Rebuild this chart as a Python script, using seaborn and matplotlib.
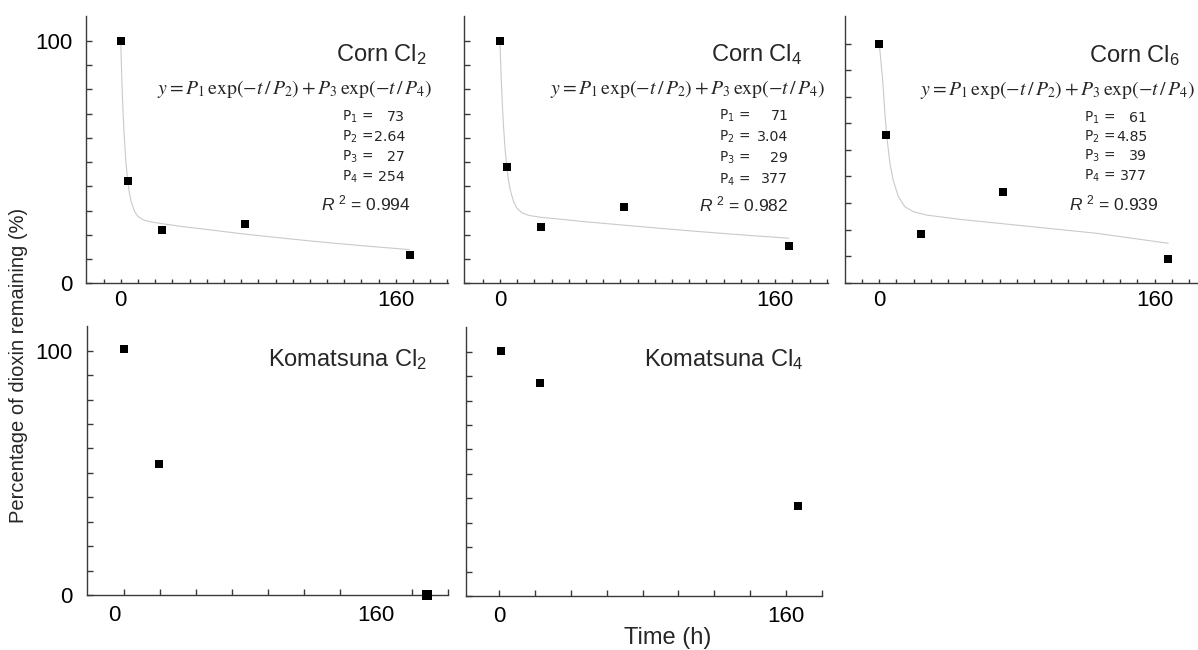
import matplotlib
matplotlib.use("Agg")
import matplotlib.pyplot as plt
import seaborn as sns
import pandas as pd

# ---------------- data ----------------
corn_time = [0, 4, 24, 72, 168]
corn_cl2 = [100, 42.3, 21.8, 24.3, 11.6]
corn_cl4 = [100, 48.0, 23.1, 31.6, 15.5]
corn_cl6 = [100, 61.6, 20.4, 38.1, 9.9]

# fitted curves (gray lines)
fit_time = [0, 0.5, 1, 1.5, 2, 3, 4, 5, 6, 8, 10, 13, 17, 24, 36, 48, 72, 96, 120, 144, 168]
fit_cl2 = [100, 87.3, 76.9, 68.2, 61.0, 50.1, 42.6, 37.5, 33.9, 29.7, 27.6, 26.2, 25.4, 24.6,
           23.4, 22.4, 20.3, 18.5, 16.8, 15.3, 13.9]
fit_cl4 = [100, 89.2, 80.0, 72.2, 65.6, 55.2, 47.7, 42.3, 38.4, 33.5, 30.9, 29.0, 28.0, 27.2,
           26.4, 25.5, 24.0, 22.5, 21.1, 19.8, 18.6]
fit_time_cl6 = [0, 2, 3.3, 4.3, 6.2, 8.1, 11.1, 14.9, 19.8, 27.5, 46.9, 70.2, 126, 168]
fit_cl6 = [100, 84.8, 70.9, 61.8, 50.0, 43.0, 36.0, 31.8, 29.7, 28.3, 26.5, 24.8, 20.7, 16.5]

kom_cl2_time = [0, 19.5, 168]
kom_cl2 = [100.6, 53.6, 0]
kom_cl4_time = [1, 23, 167]
kom_cl4 = [100.3, 87.3, 36.8]

params_cl2 = ["73", "2.64", "27", "254"]
params_cl4 = ["71", "3.04", "29", "377"]
params_cl6 = ["61", "4.85", "39", "377"]
r2_values = ["0.994", "0.982", "0.939"]
corn_titles = ["Corn Cl$_2$", "Corn Cl$_4$", "Corn Cl$_6$"]
kom_titles = ["Komatsuna Cl$_2$", "Komatsuna Cl$_4$"]
x_tick_labels = ["0", "160"]
y_tick_labels = ["0", "100"]

# ---------------- style ----------------
sns.set_theme(style="ticks")
plt.rcParams["font.family"] = ["Liberation Sans", "DejaVu Sans"]
plt.rcParams["mathtext.fontset"] = "custom"
plt.rcParams["mathtext.rm"] = "Liberation Sans"
plt.rcParams["mathtext.it"] = "Liberation Sans:italic"
plt.rcParams["mathtext.bf"] = "Liberation Sans:bold"

W, H = 1198, 650
fig = plt.figure(figsize=(W / 100, H / 100), dpi=100)
fig.patch.set_facecolor("white")

SPINE = "#3a3a3a"
CURVE = "#cacaca"


def add_ax(l, r, t, b):
    ax = fig.add_axes([l / W, 1 - b / H, (r - l) / W, (b - t) / H])
    ax.set_facecolor("none")
    for s in ["top", "right"]:
        ax.spines[s].set_visible(False)
    for s in ["left", "bottom"]:
        ax.spines[s].set_color(SPINE)
        ax.spines[s].set_linewidth(1.0)
    return ax


def ftext(x, y, s, **kw):
    fig.text(x / W, 1 - y / H, s, **kw)


def style_axis(ax, xlim, ylim, xmajor, xlabels, xminor, ymajor, ylabels, yminor,
               xlen, xpad, ypad, show_y_labels):
    ax.set_xlim(*xlim)
    ax.set_ylim(*ylim)
    ax.set_xticks(xmajor)
    ax.set_xticklabels(xlabels)
    ax.set_xticks(xminor, minor=True)
    ax.set_yticks(ymajor)
    ax.set_yticklabels(ylabels if show_y_labels else [])
    ax.set_yticks(yminor, minor=True)
    ax.tick_params(axis="x", which="both", direction="in", length=xlen, width=1.0,
                   color=SPINE, labelsize=16, pad=xpad, labelcolor="black")
    ax.tick_params(axis="y", which="both", direction="in", length=4.0, width=1.0,
                   color=SPINE, labelsize=16, pad=ypad, labelcolor="black")
    ax.tick_params(axis="x", which="major", length=0)
    ax.set_xlabel("")
    ax.set_ylabel("")


# ---------------- top row: corn ----------------
top_axes_px = [(86, 448, 16, 283.3), (464, 827.7, 16, 283.3), (845, 1197, 16, 282.7)]
top_xlims = [(-20.2, 190.3), (-20.9, 190.5), (-19.9, 184.7)]
top_ylims = [(0, 110.3), (0, 110.3), (0, 111.6)]
corn_vals = [corn_cl2, corn_cl4, corn_cl6]
fit_times = [fit_time, fit_time, fit_time_cl6]
fit_vals = [fit_cl2, fit_cl4, fit_cl6]

for i in range(3):
    ax = add_ax(*top_axes_px[i])
    sns.lineplot(x=fit_times[i], y=fit_vals[i], ax=ax, color=CURVE, linewidth=0.8,
                 estimator=None, sort=False, legend=False)
    sns.scatterplot(x=corn_time, y=corn_vals[i], ax=ax, marker="s", s=26, color="black",
                    linewidth=0, legend=False, zorder=5)
    if i < 2:
        yminor = list(range(10, 101, 10))
    else:
        yminor = [100 * k / 9 for k in range(1, 10)]
    xminor = list(range(-10, 191, 10)) if i < 2 else list(range(-10, 181, 10))
    style_axis(ax, top_xlims[i], top_ylims[i], [0, 160], x_tick_labels, xminor,
               [0, 100], y_tick_labels, yminor, 2.6, 5.0, 10.0, i == 0)
    ax.tick_params(axis="x", which="major", length=2.6)

# ---------------- bottom row: komatsuna ----------------
ax4 = add_ax(87.3, 448.3, 326, 595)
sns.scatterplot(x=kom_cl2_time[:2], y=kom_cl2[:2], ax=ax4, marker="s", s=34, color="black",
                linewidth=0, legend=False, zorder=5, clip_on=False)
sns.scatterplot(x=kom_cl2_time[2:], y=kom_cl2[2:], ax=ax4, marker="s", s=60, color="black",
                linewidth=0, legend=False, zorder=5, clip_on=False)
style_axis(ax4, (-20.6, 180), (0, 110.1), [-5.5, 140], x_tick_labels,
           list(range(0, 181, 20)), [0, 100], y_tick_labels, list(range(10, 101, 10)),
           4.0, 7.0, 11.0, True)

ax5 = add_ax(465.7, 821.7, 327.3, 596)
sns.scatterplot(x=kom_cl4_time, y=kom_cl4, ax=ax5, marker="s", s=36, color="black",
                linewidth=0, legend=False, zorder=5)
style_axis(ax5, (-18.7, 179.5), (0, 110), [0, 160], x_tick_labels,
           list(range(0, 181, 20)), [0, 100], y_tick_labels, list(range(10, 101, 10)),
           4.0, 7.0, 11.0, False)
ax5.tick_params(axis="x", which="major", length=4.0)

# ---------------- annotations ----------------
formula = r"$y = P_1\,\mathrm{exp}(-t\,/\,P_2) + P_3\,\mathrm{exp}(-t\,/\,P_4)$"
title_pos = [(426.7, 55), (801.7, 55), (1180, 55.7)]
formula_pos = [(431.7, 89), (825, 89), (1195, 90)]
plab_x = [341.5, 719, 1084]
pval_x = [405, 788.3, 1147.3]
p_rows_y = [[116.7, 136.7, 156.7, 176.7], [116, 136.7, 157.7, 179.3], [118.3, 136.7, 155.7, 175.7]]
r2_pos = [(410, 203.3), (788, 204.3), (1158, 203)]
all_params = [params_cl2, params_cl4, params_cl6]

for i in range(3):
    ftext(*title_pos[i], corn_titles[i], ha="right", va="center", fontsize=17)
    ftext(*formula_pos[i], formula, ha="right", va="center", fontsize=14.2,
          math_fontfamily="stix")
    for k in range(4):
        ftext(plab_x[i], p_rows_y[i][k], "P$_%d$ =" % (k + 1), ha="left", va="center",
              fontsize=9.8, family="DejaVu Sans", math_fontfamily="dejavusans")
        ftext(pval_x[i], p_rows_y[i][k], all_params[i][k], ha="right", va="center",
              fontsize=10.2, family="DejaVu Sans")
    ftext(*r2_pos[i], r"$R$ $^{2}$ = " + r2_values[i], ha="right", va="center", fontsize=12.5)

ftext(426.7, 359.3, kom_titles[0], ha="right", va="center", fontsize=17)
ftext(803, 359.3, kom_titles[1], ha="right", va="center", fontsize=17)

ftext(19, 365, "Percentage of dioxin remaining (%)", rotation=90, ha="center", va="center",
      fontsize=14.5)
ftext(668, 638, "Time (h)", ha="center", va="center", fontsize=17)

fig.savefig("out.png", dpi=100)
